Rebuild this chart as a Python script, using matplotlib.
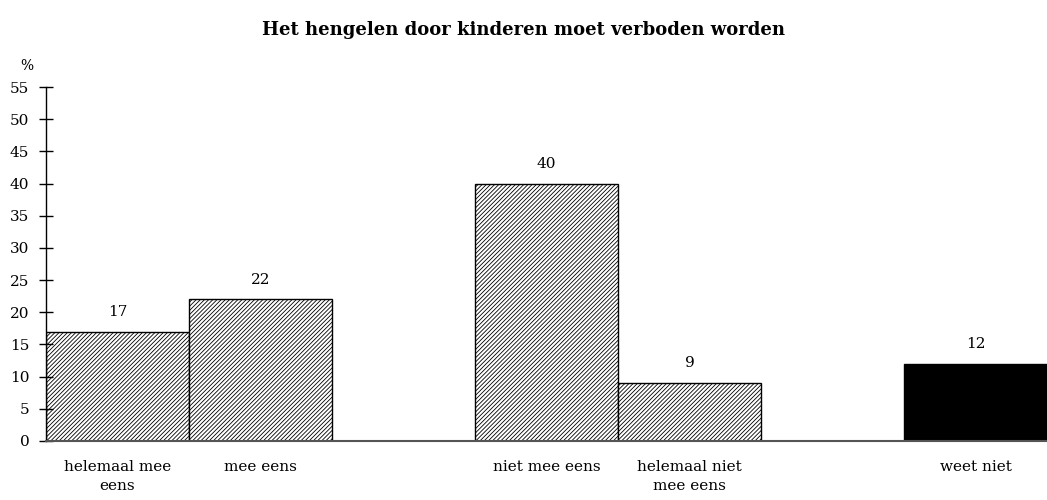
import matplotlib
matplotlib.use("Agg")
import matplotlib.pyplot as plt

categories = ["helemaal mee\neens", "mee eens", "niet mee eens", "helemaal niet\nmee eens", "weet niet"]
positions = [0, 1, 3, 4, 6]
values = [17, 22, 40, 9, 12]
yticks = list(range(0, 56, 5))
title = "Het hengelen door kinderen moet verboden worden"

plt.rcParams['font.family'] = ['DejaVu Serif']
plt.rcParams['hatch.linewidth'] = 0.6
plt.rcParams['hatch.color'] = '#444444'

fig = plt.figure(figsize=(10.47, 5.0), dpi=100)
ax = fig.add_axes([46/1047, 59/500, 1 - 46/1047, (441-87)/500])

for i, (p, v) in enumerate(zip(positions, values)):
    if i == len(values) - 1:
        ax.bar(p, v, width=1.0, color='black', edgecolor='black', linewidth=1)
    else:
        ax.bar(p, v, width=1.0, color='white', edgecolor='black', hatch='////////', linewidth=1)
    ax.text(p, v + 2, str(v), ha='center', va='bottom', fontsize=11)

ax.set_xlim(-0.5, 6.5)
ax.set_ylim(0, 55)
ax.set_yticks(yticks)
ax.tick_params(axis='y', direction='inout', length=10, width=1, labelsize=11, pad=7)
ax.set_xticks(positions)
ax.set_xticklabels(categories, fontsize=11, linespacing=1.4)
ax.tick_params(axis='x', length=0, pad=14)
for s in ['top', 'right']:
    ax.spines[s].set_visible(False)
ax.spines['left'].set_linewidth(1)
ax.spines['bottom'].set_color('#555555')
ax.spines['bottom'].set_linewidth(1.5)
ax.text(-0.013, 1.04, '%', transform=ax.transAxes, ha='right', va='bottom', fontsize=10)
fig.text(0.5, 0.94, title, ha='center', va='center', fontsize=13, fontweight='bold')

fig.savefig('out.png', dpi=100)
